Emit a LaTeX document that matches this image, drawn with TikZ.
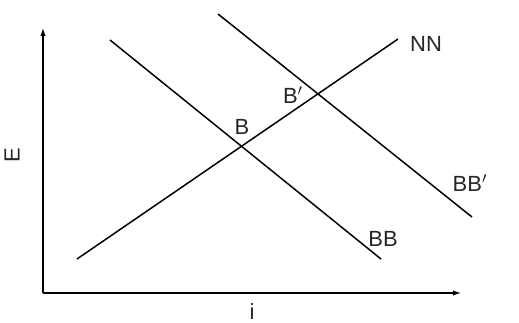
\documentclass[tikz,border=0pt]{standalone}
\usepackage{fontspec}
\setmainfont{Liberation Sans}
\usetikzlibrary{arrows.meta, positioning}

\begin{document}
\begin{tikzpicture}[
    x=0.02cm, y=-0.02cm,
    axis/.style   = {line width=0.65pt, -{Latex[length=4.5pt, width=3pt]}},
    curve/.style  = {line width=0.85pt},
    lbl/.style    = {font=\fontsize{12.5}{14}\selectfont, text=black!85, inner sep=1pt}
]
\useasboundingbox (0,0) rectangle (519,322);

%% -- Axes --------------------------------------------------
\coordinate (origin) at (43,293);
\coordinate (ytop)   at (43,28);
\coordinate (xend)   at (461,293);
\draw[axis] (origin) -- (ytop);
\draw[axis] (origin) -- (xend);
\node[lbl, rotate=90] (elabel) at (12,155) {E};
\node[lbl] (ilabel) at (252,312) {i};

%% -- Schedules ---------------------------------------------
\coordinate (nn_a)  at (77,259);
\coordinate (nn_b)  at (398,39);
\coordinate (bb_a)  at (110,40);
\coordinate (bb_b)  at (381,259);
\coordinate (bbp_a) at (218,14);
\coordinate (bbp_b) at (472,217);

\draw[curve] (nn_a)  -- (nn_b);
\draw[curve] (bb_a)  -- (bb_b);
\draw[curve] (bbp_a) -- (bbp_b);

%% -- Labels ------------------------------------------------
\node[lbl] (nn)  at (426,44)  {NN};
\node[lbl] (bb)  at (383,239) {BB};
\node[lbl] (bbp) at (470,183) {BB$'$};
\node[lbl] (b)   at (242,127) {B};
\node[lbl] (bp)  at (293,95)  {B$'$};

\end{tikzpicture}
\end{document}
